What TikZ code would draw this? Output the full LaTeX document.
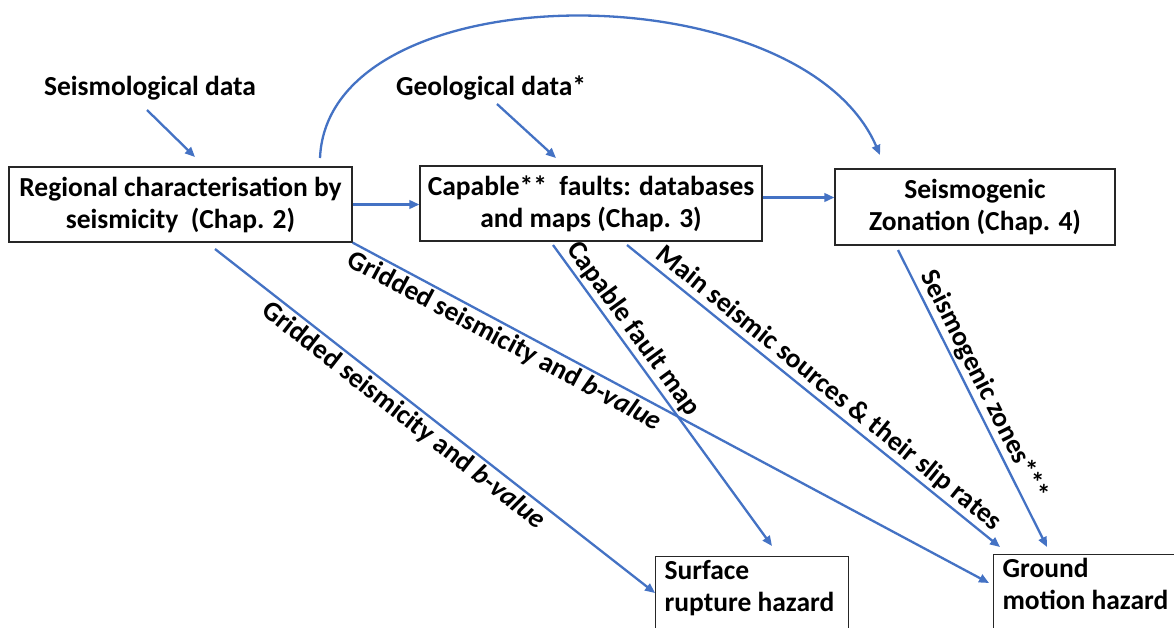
\documentclass[tikz,border=0pt]{standalone}
\usepackage{fontspec}
\setmainfont{Carlito}
\usetikzlibrary{arrows.meta,calc}
\definecolor{lineblue}{HTML}{4472C4}
\definecolor{boxgray}{HTML}{262626}
\begin{document}
\begin{tikzpicture}[x=1pt,y=-1pt,
  font=\fontsize{27.5}{32}\selectfont\bfseries,
  box/.style={draw=boxgray, line width=1.2pt, align=center, inner sep=0pt, fill=white},
  link/.style={draw=lineblue, line width=2.3pt, -{Triangle[length=10pt,width=8.5pt]}},
  lab/.style={sloped, inner sep=2.5pt}]
\useasboundingbox[fill=white] (0,0) rectangle (1174,627);

% boxes
\node[box, minimum width=343pt, minimum height=75pt] (reg) at (180.5,204.5)
  {Regional characterisation by\\seismicity\ \ (Chap. 2)};
\node[box, minimum width=342pt, minimum height=75pt] (cap) at (591,203.5)
  {Capable**\ \ faults: databases\\and maps (Chap. 3)};
\node[box, minimum width=280pt, minimum height=76pt] (zon) at (975,207)
  {Seismogenic\\Zonation (Chap. 4)};
\node[box, anchor=north west, inner xsep=9pt, inner ysep=4pt] (surf) at (655,556)
  {\parbox[t][90pt][t]{175pt}{\raggedright Surface\\rupture hazard}};
\node[box, anchor=north west, inner xsep=9pt, inner ysep=4pt] (grd) at (993,554)
  {\parbox[t][90pt][t]{200pt}{\raggedright Ground\\motion hazard}};

% input texts
\node (seis) at (150,88) {Seismological data};
\node (geo) at (491,88) {Geological data*};

% free ends
\coordinate (seisS) at (147,110);
\coordinate (seisE) at (195,157);
\coordinate (geoS) at (497,104);
\coordinate (geoE) at (556,158);
\coordinate (arcS) at (320,158);
\coordinate (arcE) at (880,155);
\coordinate (g1S) at (215,249);
\coordinate (g1E) at (655,593);
\coordinate (g2E) at (989,583);
\coordinate (cfS) at (553,245);
\coordinate (cfE) at (772,546);
\coordinate (msS) at (627,245);
\coordinate (msE) at (1000,547);
\coordinate (szS) at (898,250);
\coordinate (szE) at (1047,547);

% connectors
\draw[link] (seisS) -- (seisE);
\draw[link] (geoS) -- (geoE);
\draw[link] (arcS) .. controls (328,-30) and (800,-30) .. (arcE);
\draw[link] (reg.east) -- (reg.east -| cap.west);
\draw[link] ([yshift=6pt]cap.east) -- ([yshift=6pt]cap.east -| zon.west);

\draw[link] (g1S) -- node[lab, below, pos=0.45] {Gridded seismicity and \textit{b-value}} (g1E);
\draw[link] (reg.south east) -- node[lab, below, pos=0.25] {Gridded seismicity and \textit{b-value}} (g2E);
\draw[link] (cfS) -- node[lab, above, pos=0.31] {Capable fault map} (cfE);
\draw[link] (msS) -- node[lab, above, pos=0.515] {Main seismic sources \& their slip rates} (msE);
\draw[link] (szS) -- node[lab, above, pos=0.48] {Seismogenic zones***} (szE);
\end{tikzpicture}
\end{document}
